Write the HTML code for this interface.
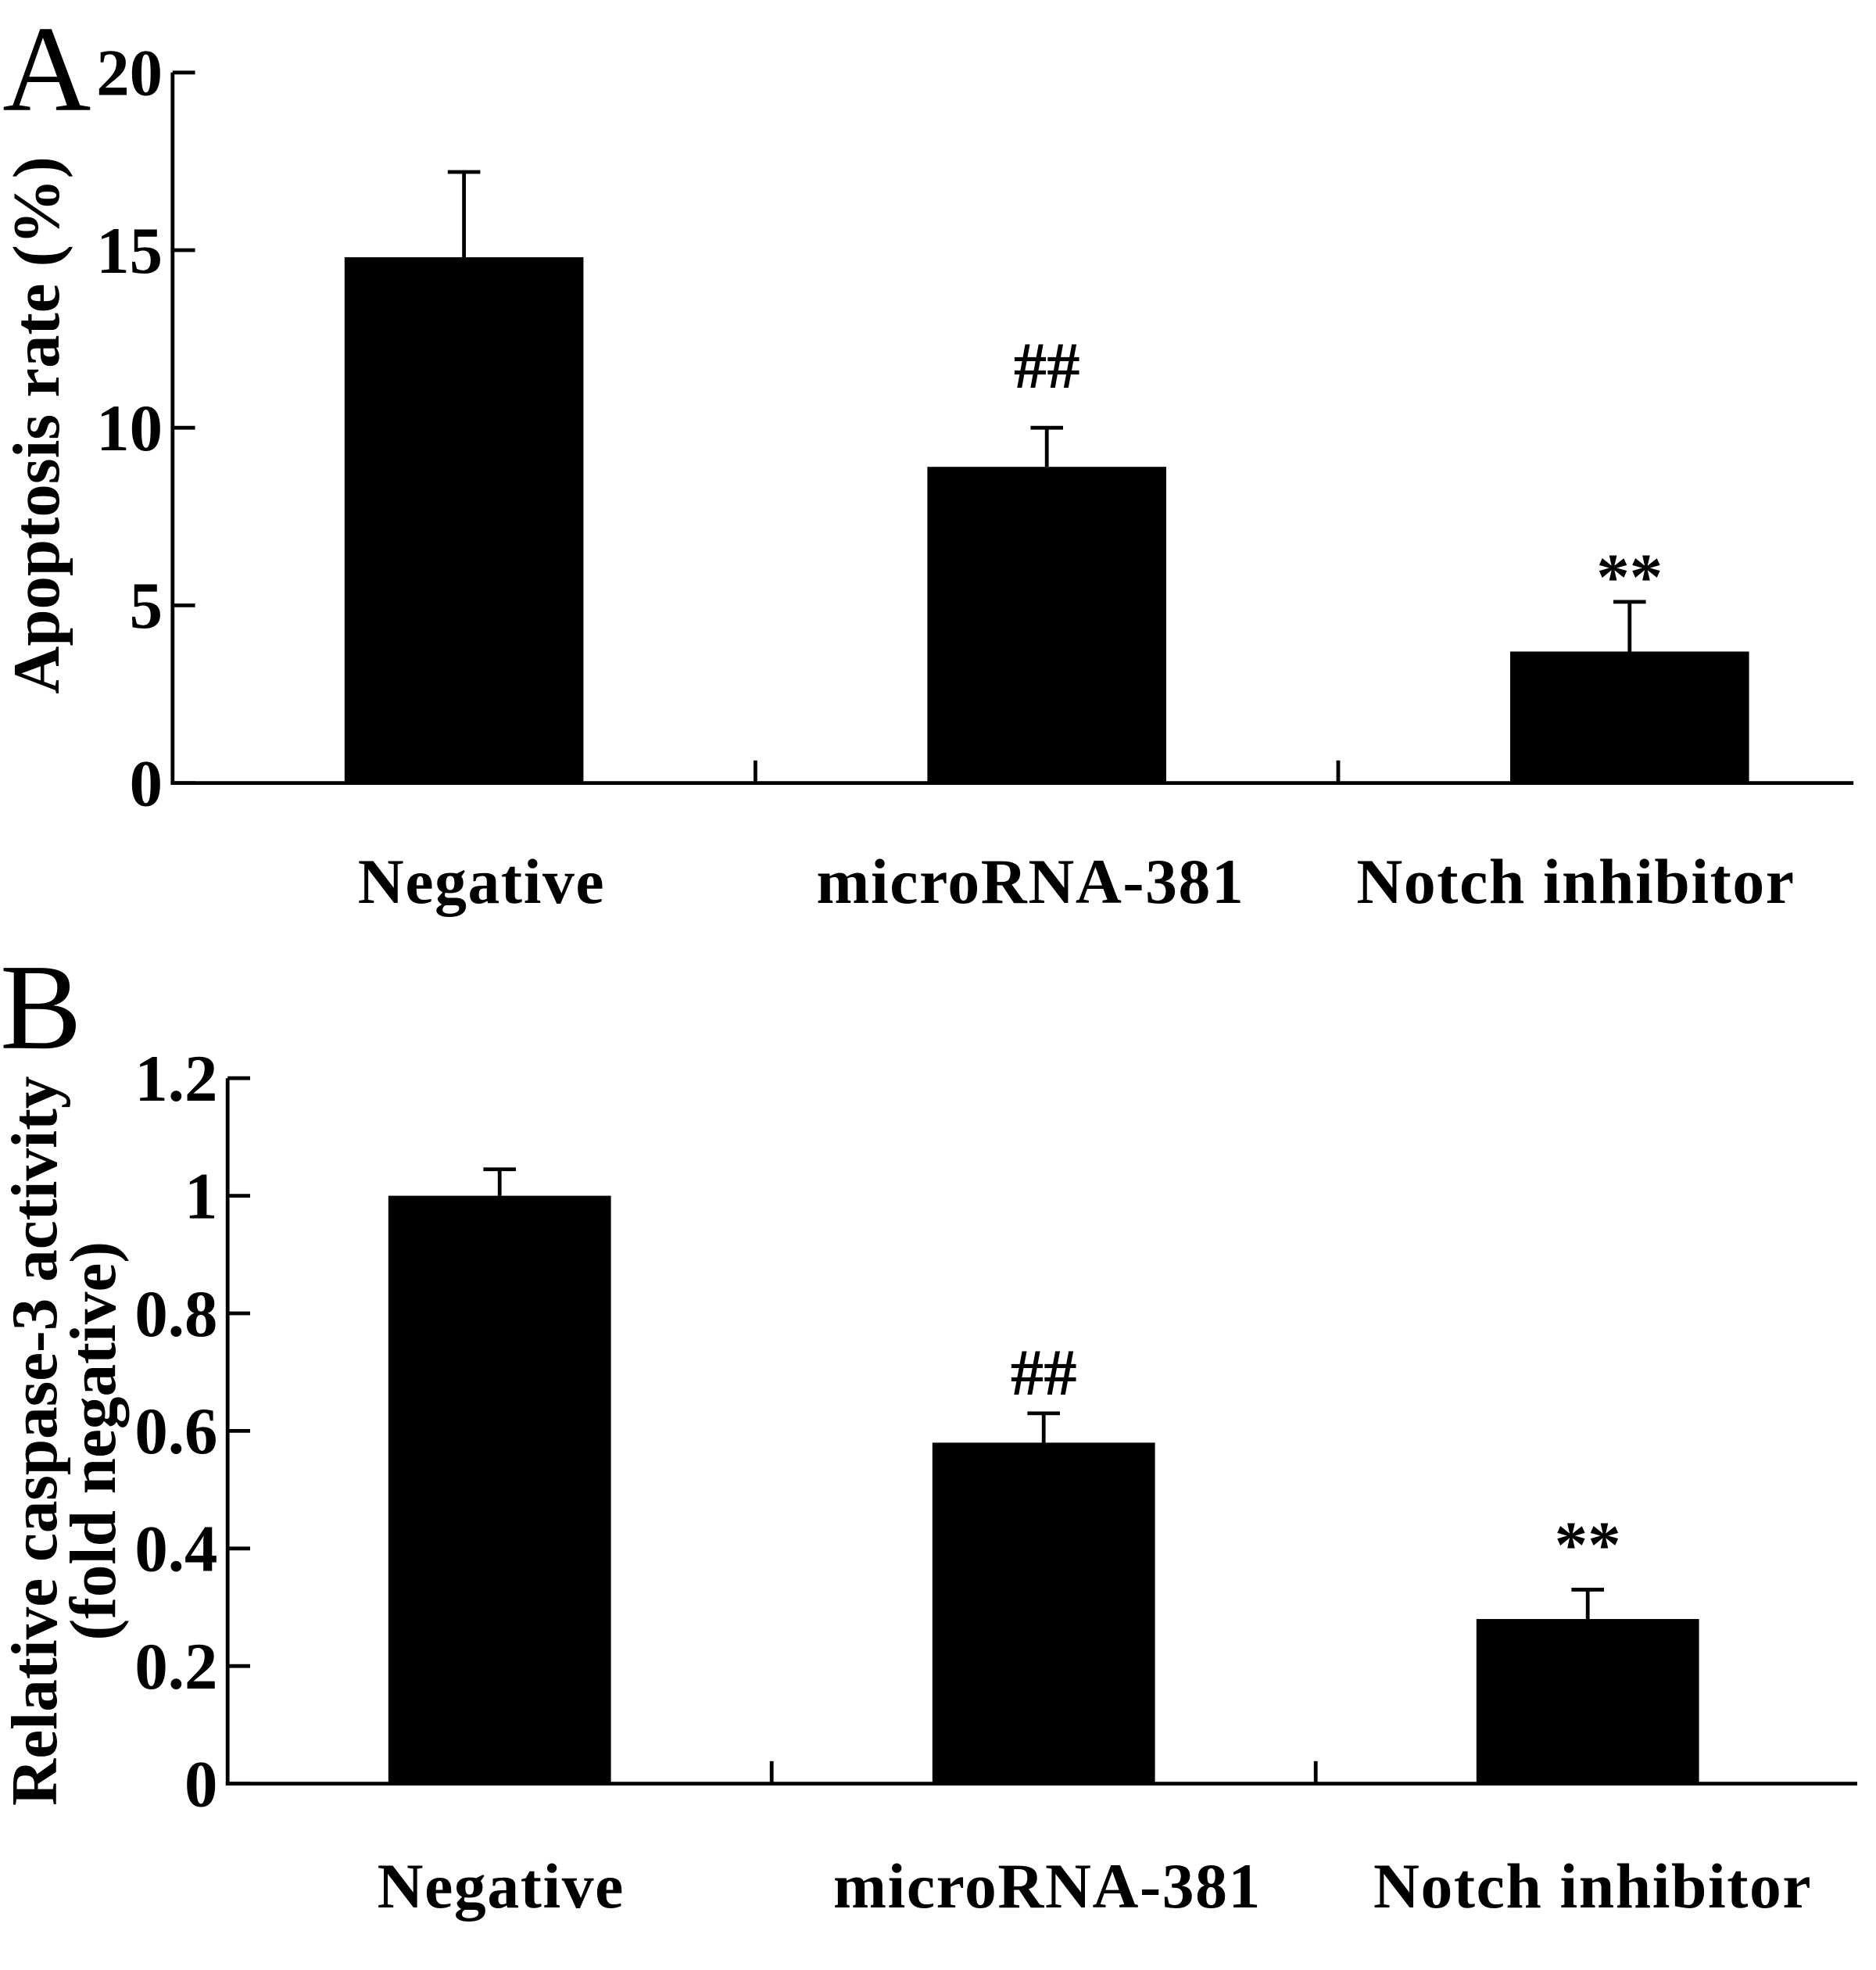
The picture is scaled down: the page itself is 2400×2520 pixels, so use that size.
<!DOCTYPE html>
<html><head><meta charset="utf-8"><style>
html,body{margin:0;padding:0;background:#fff;}
svg{display:block;font-family:"Liberation Serif",serif;}
</style></head><body>
<svg id="fig" width="2400" height="2520" viewBox="0 0 1500 1575" xmlns="http://www.w3.org/2000/svg">
<text x="2" y="88" font-size="98">A</text>
<text x="0" y="838" font-size="98">B</text>
<g id="chartA"></g>
<g id="chartB"></g>
</svg>
<script>
const categories = ["Negative", "microRNA-381", "Notch inhibitor"];
const aValues = [14.8, 8.9, 3.7];
const aErrors = [2.4, 1.1, 1.4];
const aTicks = [0, 5, 10, 15, 20];
const aSig = ["", "##", "**"];
const bValues = [1.0, 0.58, 0.28];
const bErrors = [0.045, 0.05, 0.05];
const bTicks = [0, 0.2, 0.4, 0.6, 0.8, 1, 1.2];
const bTickLabels = ["0", "0.2", "0.4", "0.6", "0.8", "1", "1.2"];
const bSig = ["", "##", "**"];

const NS = "http://www.w3.org/2000/svg";
function mk(parent, tag, attrs, text) {
  const el = document.createElementNS(NS, tag);
  for (const k in attrs) el.setAttribute(k, attrs[k]);
  if (text !== undefined) el.textContent = text;
  parent.appendChild(el);
  return el;
}

function draw(g, cfg) {
  const y = v => cfg.y0 - (v - cfg.min) / (cfg.max - cfg.min) * (cfg.y0 - cfg.y1);
  const slot = cfg.slot;
  const cx = i => cfg.x0 + slot * (i + 0.5);
  let a = mk(g, "line", {x1: cfg.x0, y1: cfg.y1, x2: cfg.x0, y2: cfg.y0, stroke: "#000", "stroke-width": 3});
  
  
  a = mk(g, "line", {x1: cfg.x0 - 1.5, y1: cfg.y0, x2: cfg.xEnd, y2: cfg.y0, stroke: "#000", "stroke-width": 3});
  
  
  cfg.ticks.forEach((t, i) => {
    const tk = mk(g, "line", {x1: cfg.x0, y1: y(t), x2: cfg.x0 + 18, y2: y(t), stroke: "#000", "stroke-width": 3});
    
    
    const tl = mk(g, "text", {x: cfg.x0 - 8, y: y(t) + 18, "font-size": 53, "font-weight": "bold", "text-anchor": "end"}, cfg.tickLabels[i]);
    
    
  });
  for (let i = 1; i < categories.length; i++) {
    const sx = cfg.x0 + slot * i;
    const st = mk(g, "line", {x1: sx, y1: cfg.y0, x2: sx, y2: cfg.y0 - 18, stroke: "#000", "stroke-width": 3});
    
    
  }
  categories.forEach((c, i) => {
    const v = cfg.values[i], e = cfg.errors[i];
    const top = y(v);
    const eb = mk(g, "line", {x1: cx(i), y1: top, x2: cx(i), y2: y(v + e), stroke: "#000", "stroke-width": 3});
    
    
    const cap = mk(g, "line", {x1: cx(i) - 13, y1: y(v + e), x2: cx(i) + 13, y2: y(v + e), stroke: "#000", "stroke-width": 3});
    
    
    const r = mk(g, "rect", {x: cx(i) - cfg.bw / 2, y: top, width: cfg.bw, height: cfg.y0 - top, fill: "#000"});
    
    
    const lb = mk(g, "text", {x: cx(i) + cfg.labelOff[i], y: cfg.labelY, "font-size": 51, "font-weight": "bold", "text-anchor": "middle", "letter-spacing": 1}, c);
    
    
    if (cfg.sig[i]) {
      const off = cfg.sig[i] === "##" ? cfg.hashOff : cfg.starOff;
      const s = mk(g, "text", {x: cx(i), y: y(v + e) + off, "font-size": 53, "font-weight": "bold", "text-anchor": "middle"}, cfg.sig[i]);
      
      
    }
  });
  cfg.titles.forEach((t, k) => {
    const tt = mk(g, "text", {x: 0, y: 0, "font-size": t.size, "font-weight": "bold", "text-anchor": "middle",
      transform: "translate(" + t.x + "," + cfg.titleY + ") rotate(-90)"}, t.text);
    
    
  });
}

draw(document.getElementById("chartA"), {
  x0: 138, xEnd: 1482, y0: 626, y1: 58, min: 0, max: 20, slot: 466, bw: 191,
  values: aValues, errors: aErrors, ticks: aTicks, tickLabels: aTicks.map(String), sig: aSig,
  hashOff: -32, starOff: -2, labelOff: [14, -13, -43],
  labelY: 722, titleY: 340, titles: [{x: 47, size: 53, text: "Apoptosis rate (%)"}]
});
draw(document.getElementById("chartB"), {
  x0: 182, xEnd: 1485, y0: 1426, y1: 862, min: 0, max: 1.2, slot: 435, bw: 178,
  values: bValues, errors: bErrors, ticks: bTicks, tickLabels: bTickLabels, sig: bSig,
  hashOff: -15, starOff: -18, labelOff: [1, 3, 4],
  labelY: 1525, titleY: 1152, titles: [{x: 45, size: 52, text: "Relative caspase-3 activity"}, {x: 92, size: 52, text: "(fold negative)"}]
});
</script>
</body></html>
